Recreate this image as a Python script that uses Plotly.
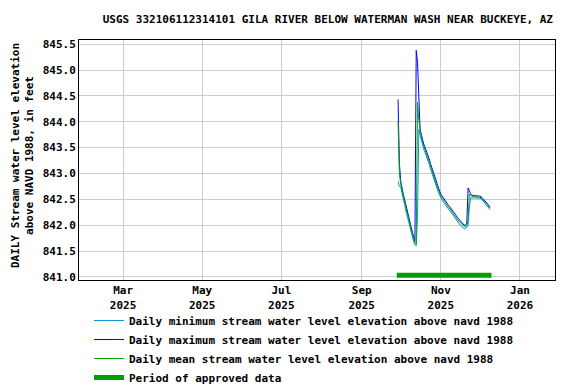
import pandas as pd
import plotly.graph_objects as go

# daily values, first day 2025-09-29
start_date = "2025-09-29"

daily_max = [
    844.43, 843.20, 842.86, 842.70, 842.60, 842.50, 842.38, 842.27, 842.17, 842.08,
    841.97, 841.87, 841.76, 841.69, 845.38, 845.15, 844.50, 843.86, 843.74, 843.63,
    843.55, 843.49, 843.43, 843.35, 843.28, 843.19, 843.11, 843.03, 842.95, 842.87,
    842.80, 842.72, 842.66, 842.60, 842.56, 842.52, 842.49, 842.45, 842.41, 842.38,
    842.35, 842.32, 842.29, 842.25, 842.21, 842.18, 842.14, 842.11, 842.08, 842.05,
    842.03, 842.00, 842.00, 842.04, 842.72, 842.66, 842.60, 842.58, 842.57, 842.57,
    842.57, 842.57, 842.56, 842.56, 842.55, 842.53, 842.50, 842.47, 842.44, 842.41,
    842.38, 842.35,
]

daily_mean = [
    844.00, 843.00, 842.80, 842.65, 842.55, 842.45, 842.33, 842.22, 842.12, 842.03,
    841.92, 841.82, 841.72, 841.66, 841.64, 844.38, 844.02, 843.80, 843.68, 843.58,
    843.50, 843.44, 843.38, 843.30, 843.23, 843.14, 843.06, 842.98, 842.90, 842.82,
    842.75, 842.68, 842.62, 842.56, 842.52, 842.48, 842.45, 842.41, 842.37, 842.34,
    842.31, 842.28, 842.25, 842.21, 842.17, 842.14, 842.10, 842.07, 842.04, 842.01,
    841.99, 841.97, 841.97, 841.99, 842.10, 842.60, 842.57, 842.56, 842.55, 842.55,
    842.55, 842.55, 842.55, 842.54, 842.53, 842.50, 842.48, 842.45, 842.42, 842.39,
    842.36, 842.33,
]

daily_min = [
    842.85, 842.75, 842.74, 842.60, 842.50, 842.40, 842.28, 842.17, 842.07, 841.98,
    841.87, 841.77, 841.68, 841.62, 841.60, 842.15, 843.85, 843.74, 843.62, 843.53,
    843.45, 843.39, 843.33, 843.25, 843.18, 843.09, 843.01, 842.93, 842.85, 842.77,
    842.70, 842.64, 842.58, 842.52, 842.48, 842.44, 842.41, 842.37, 842.33, 842.30,
    842.27, 842.24, 842.21, 842.17, 842.13, 842.10, 842.06, 842.03, 842.00, 841.97,
    841.95, 841.93, 841.93, 841.97, 842.00, 842.35, 842.53, 842.53, 842.53, 842.53,
    842.53, 842.53, 842.52, 842.52, 842.51, 842.48, 842.45, 842.42, 842.39, 842.36,
    842.33, 842.30,
]

approved_dates = ["2025-09-28", "2025-12-10"]
approved_level = 841.03

tick_dates = ["2025-03-01", "2025-05-01", "2025-07-01", "2025-09-01", "2025-11-01", "2026-01-01"]
tick_text = ["Mar<br>2025", "May<br>2025", "Jul<br>2025", "Sep<br>2025", "Nov<br>2025", "Jan<br>2026"]

dates = pd.date_range(start_date, periods=len(daily_mean), freq="D")

FONT = dict(family="DejaVu Sans Mono", size=11, color="black", weight="bold")

# the page body adds an 8px margin, so the figure is 8px smaller than the window
W, H = 568, 376

fig = go.Figure()

fig.add_trace(go.Scatter(
    x=dates, y=daily_min, mode="lines",
    line=dict(color="#0a96e0", width=1),
    name="Daily minimum stream water level elevation above navd 1988",
))
fig.add_trace(go.Scatter(
    x=dates, y=daily_max, mode="lines",
    line=dict(color="#0000ff", width=1),
    name="Daily maximum stream water level elevation above navd 1988",
))
fig.add_trace(go.Scatter(
    x=dates, y=daily_mean, mode="lines",
    line=dict(color="#00a800", width=1),
    name="Daily mean stream water level elevation above navd 1988",
))
fig.add_trace(go.Scatter(
    x=approved_dates, y=[approved_level] * len(approved_dates), mode="lines",
    line=dict(color="#00a000", width=5),
    name="Period of approved data",
))

fig.update_layout(
    width=W, height=H,
    margin=dict(l=71, r=21, t=32, b=104, autoexpand=False),
    paper_bgcolor="white", plot_bgcolor="white",
    font=FONT,
    title=dict(
        text="USGS 332106112314101 GILA RIVER BELOW WATERMAN WASH NEAR BUCKEYE, AZ",
        x=545 / W, xref="container", xanchor="right",
        y=1 - 11 / H, yref="container", yanchor="middle",
        font=FONT,
    ),
    showlegend=True,
    legend=dict(
        x=81 / W, xref="container", xanchor="left",
        y=1 - 298 / H, yref="container", yanchor="top",
        bgcolor="rgba(0,0,0,0)", font=FONT, tracegroupgap=0,
    ),
    # y axis title as a rotated annotation left of the tick labels
    annotations=[dict(
        text="DAILY Stream water level elevation<br>above NAVD 1988, in feet",
        xref="paper", yref="paper", x=-0.12, y=0.52,
        xanchor="center", yanchor="middle", textangle=-90,
        showarrow=False, font=FONT,
    )],
)

fig.update_xaxes(
    type="date",
    range=["2025-01-26", "2026-01-28"],
    tickvals=tick_dates, ticktext=tick_text,
    showgrid=True, gridcolor="#cccccc", gridwidth=1,
    showline=True, linecolor="black", linewidth=1, mirror=True,
    ticks="", zeroline=False, tickfont=FONT, automargin=False,
)
fig.update_yaxes(
    range=[840.94, 845.58],
    tickvals=[841.0, 841.5, 842.0, 842.5, 843.0, 843.5, 844.0, 844.5, 845.0, 845.5],
    tickformat=".1f",
    showgrid=True, gridcolor="#cccccc", gridwidth=1,
    showline=True, linecolor="black", linewidth=1, mirror=True,
    ticks="", zeroline=False, tickfont=FONT, automargin=False,
)

fig.write_html("out.html")
